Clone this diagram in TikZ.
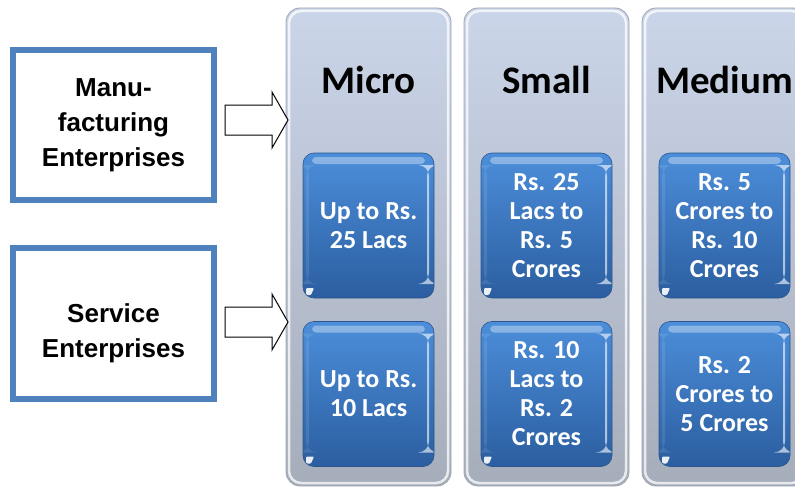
\documentclass[tikz,border=0pt]{standalone}
\usepackage{fontspec}
\setmainfont{Liberation Sans}
\newfontfamily\calibrifont{Carlito}
\usetikzlibrary{calc}

\definecolor{framecol}{RGB}{79,129,189}
\definecolor{coltop}{RGB}{203,213,233}
\definecolor{colbot}{RGB}{166,173,186}
\definecolor{coledge}{RGB}{160,167,180}
\definecolor{boxtop}{RGB}{76,142,218}
\definecolor{boxbot}{RGB}{43,94,160}
\definecolor{boxedge}{RGB}{45,85,140}

\tikzset{
  typebox/.style={draw=framecol, line width=6pt, fill=white, minimum width=201pt,
    minimum height=150pt, inner sep=0pt, align=center,
    font=\bfseries\fontsize{26}{35}\selectfont},
  typetext/.style={inner sep=0pt, align=center, font=\bfseries\fontsize{26}{35}\selectfont},
  column/.style={rounded corners=14pt, minimum width=165pt, minimum height=478pt,
    inner sep=0pt, top color=coltop, bottom color=colbot, draw=coledge, line width=0.8pt,
    path picture={
      \draw[white, opacity=.75, line width=2.5pt, rounded corners=12pt]
        ([shift={(3pt,-3pt)}]path picture bounding box.north west) rectangle
        ([shift={(-3pt,3pt)}]path picture bounding box.south east);
    }},
  coltitle/.style={font=\calibrifont\bfseries\fontsize{39}{45}\selectfont, inner sep=0pt},
  sizebox/.style={rounded corners=11pt, minimum width=131pt, minimum height=145pt,
    inner sep=0pt, top color=boxtop, bottom color=boxbot, draw=boxedge, line width=0.6pt,
    text=white, align=center, font=\calibrifont\bfseries\fontsize{26}{29}\selectfont,
    path picture={
      \fill[white, opacity=.35, rounded corners=4pt]
        ([shift={(9pt,-4pt)}]path picture bounding box.north west) rectangle
        ([shift={(-9pt,-11pt)}]path picture bounding box.north east);
      \fill[white, opacity=.10]
        ([shift={(3pt,-12pt)}]path picture bounding box.north west) rectangle
        ([shift={(6pt,14pt)}]path picture bounding box.south west);
      \fill[white, opacity=.6]
        ([shift={(-5pt,-12pt)}]path picture bounding box.north east) rectangle
        ([shift={(-7pt,14pt)}]path picture bounding box.south east);
      \fill[white, opacity=.9, rounded corners=1pt]
        ([shift={(3pt,3pt)}]path picture bounding box.south west) --
        ([shift={(3pt,10pt)}]path picture bounding box.south west) --
        ([shift={(11pt,10pt)}]path picture bounding box.south west) --
        ([shift={(8pt,3pt)}]path picture bounding box.south west) -- cycle;
    }},
  blockarrow/.style={draw=black, fill=white, line width=1pt, line join=miter}
}

\begin{document}
\begin{tikzpicture}[x=1pt, y=-1pt]
  \useasboundingbox (0,0) rectangle (795,487);
  \fill[white] (0,0) rectangle (795,487);
  \clip (0,0) rectangle (795,487);

  % enterprise types
  \node[typebox] (manu) at (113.5,125) {Manu-\\facturing\\Enterprises};
  \node[typebox, minimum height=151pt] (serv) at (113.5,323.5) {};
  \node[typetext] (servtext) at (113.5,333.5) {Service\\Enterprises};

  % three size columns
  \node[column] (micro)  at (368.5,247) {};
  \node[column] (small)  at (546.5,247) {};
  \node[column] (medium) at (724.5,247) {};

  \node[coltitle] (microt)  at (368.5,80) {Micro};
  \node[coltitle] (smallt)  at (546.5,80) {Small};
  \node[coltitle] (mediumt) at (724.5,80) {Medium};

  % investment limits
  \node[sizebox] (mi1) at (368.5,225.5) {Up to Rs.\\25 Lacs};
  \node[sizebox] (mi2) at (368.5,394)   {Up to Rs.\\10 Lacs};
  \node[sizebox] (sm1) at (546.5,225.5) {Rs. 25\\Lacs to\\Rs. 5\\Crores};
  \node[sizebox] (sm2) at (546.5,394)   {Rs. 10\\Lacs to\\Rs. 2\\Crores};
  \node[sizebox] (me1) at (724.5,225.5) {Rs. 5\\Crores to\\Rs. 10\\Crores};
  \node[sizebox] (me2) at (724.5,394)   {Rs. 2\\Crores to\\5 Crores};

  % block arrows from each enterprise type to the columns
  \foreach \cy in {120, 322} {
    \draw[blockarrow]
      (225,\cy-15) -- (272,\cy-15) -- (272,\cy-28) -- (288,\cy) --
      (272,\cy+28) -- (272,\cy+15) -- (225,\cy+15) -- cycle;
  }
\end{tikzpicture}
\end{document}
